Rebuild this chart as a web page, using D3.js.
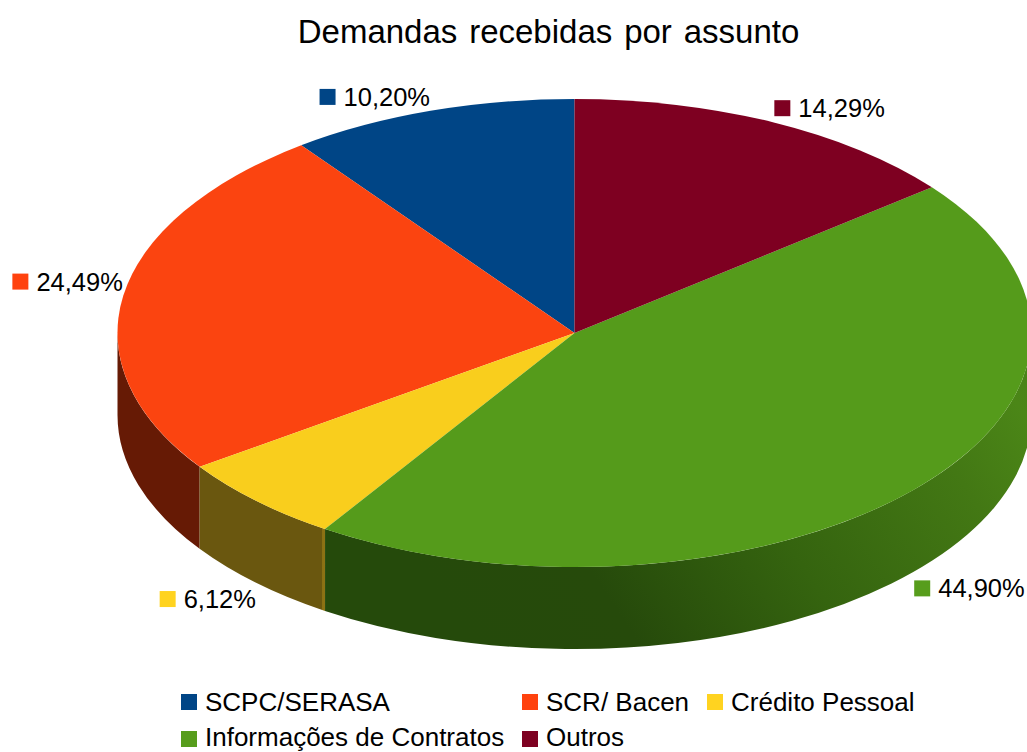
<!DOCTYPE html>
<html>
<head>
<meta charset="utf-8">
<script src="https://d3js.org/d3.v7.min.js"></script>
<style>
  html, body { margin: 0; padding: 0; background: #fff; overflow: hidden; }
  text { font-family: "Liberation Sans", Arial, sans-serif; fill: #000; }
</style>
</head>
<body>
<svg id="chart" width="1027" height="752"></svg>
<script>
var categories = ["SCPC/SERASA", "SCR/ Bacen", "Crédito Pessoal", "Informações de Contratos", "Outros"];
var percents = [10.20, 24.49, 6.12, 44.90, 14.29];
var colors = ["#004586", "#fb4410", "#f9ce1d", "#559b1b", "#7e0021"];
var swatchColors = ["#004586", "#ff420e", "#ffd320", "#579d1c", "#7e0021"];
var title = "Demandas recebidas por assunto";

var cx = 574.5, cy = 333, rx = 457, ry = 234, depth = 82;
var svg = d3.select("#chart");

// gradients for the rim, only the lower slices show it
var defs = svg.append("defs");
function sideGradient(id, tilt, stops) {
    var g = defs.append("linearGradient").attr("id", id)
        .attr("x1", 0).attr("y1", tilt).attr("x2", 1).attr("y2", 0);
    stops.forEach(function(s) {
        g.append("stop").attr("offset", s[0]).attr("stop-color", s[1]);
    });
}
sideGradient("side1", 0, [[0, "#661a05"], [1, "#661a05"]]);
sideGradient("side2", 0, [[0, "#6a570f"], [0.975, "#6a570f"], [0.98, "#8c7214"], [1, "#8c7214"]]);
sideGradient("side3", 0.3, [[0, "#254a0b"], [0.22, "#264a0b"], [0.5, "#35640f"], [0.78, "#437814"], [0.92, "#4b8617"], [1, "#47801a"]]);

// slices go counter clockwise from 12 o'clock
var pie = d3.pie().sort(null).startAngle(0).endAngle(-2 * Math.PI);
var arcs = pie(percents);

function px(a) { return cx + rx * Math.sin(a); }
function py(a) { return cy - ry * Math.cos(a); }

function sidePath(a0, a1) {
    // a0 > a1 coming from the pie, normalise to clockwise 0..2pi
    var lo = a1 + 2 * Math.PI, hi = a0 + 2 * Math.PI;
    lo = Math.max(lo, Math.PI / 2);
    hi = Math.min(hi, 3 * Math.PI / 2);
    if (lo >= hi) return null;
    return "M" + px(lo) + "," + py(lo) +
        "A" + rx + "," + ry + " 0 0 1 " + px(hi) + "," + py(hi) +
        "L" + px(hi) + "," + (py(hi) + depth) +
        "A" + rx + "," + ry + " 0 0 0 " + px(lo) + "," + (py(lo) + depth) + "Z";
}

var sideIds = { 1: "side1", 2: "side2", 3: "side3" };
svg.append("g").selectAll("path")
    .data(arcs)
    .enter().append("path")
    .attr("d", function(d) { return sidePath(d.startAngle, d.endAngle); })
    .attr("fill", function(d, i) { return sideIds[i] ? "url(#" + sideIds[i] + ")" : "none"; });

// top face: unit arcs squashed into the ellipse
var arc = d3.arc().innerRadius(0).outerRadius(1);
svg.append("g")
    .attr("transform", "translate(" + cx + "," + cy + ") scale(" + rx + "," + ry + ")")
    .selectAll("path")
    .data(arcs)
    .enter().append("path")
    .attr("d", arc)
    .attr("fill", function(d, i) { return colors[i]; });

svg.append("text")
    .attr("x", 548.5).attr("y", 43)
    .attr("text-anchor", "middle")
    .attr("font-size", 33)
    .attr("word-spacing", 2.7)
    .text(title);

// data labels sit outside the rim at each slice's mid angle
var valueFormat = d3.format(".2f");
var swatch = 16, gap = 8;
var labels = svg.append("g").selectAll("g")
    .data(arcs)
    .enter().append("g");

labels.each(function(d, i) {
    var g = d3.select(this);
    var mid = (d.startAngle + d.endAngle) / 2;
    var lower = Math.cos(mid) < 0;
    var ax = px(mid), ay = py(mid) + (lower ? depth : 0);
    var base = lower ? ay + 25 : ay - 5;
    var t = g.append("text")
        .attr("y", base)
        .attr("font-size", 25.5)
        .text(valueFormat(d.data).replace(".", ",") + "%");
    var w = t.node().getComputedTextLength();
    var left = Math.sin(mid) > 0 ? ax + 1.5 : ax - w - gap - swatch - 0.5;
    t.attr("x", left + swatch + gap);
    g.append("rect")
        .attr("x", left).attr("y", base - 17)
        .attr("width", swatch).attr("height", swatch)
        .attr("fill", swatchColors[i]);
});

// legend, three columns then wrap
var legendCol = [181, 522, 707, 181, 522];
var legendRow = [711, 711, 711, 748, 748];
var legend = svg.append("g").selectAll("g")
    .data(categories)
    .enter().append("g")
    .attr("transform", function(d, i) { return "translate(" + legendCol[i] + "," + legendRow[i] + ")"; });
legend.append("rect")
    .attr("y", -17).attr("width", swatch).attr("height", swatch)
    .attr("fill", function(d, i) { return swatchColors[i]; });
// second row lifted a little so the descender of the c-cedilla stays inside the page
legend.append("text")
    .attr("x", swatch + gap)
    .attr("y", function(d, i) { return i > 2 ? -2 : 0; })
    .attr("font-size", 26)
    .text(function(d) { return d; });
</script>
</body>
</html>
